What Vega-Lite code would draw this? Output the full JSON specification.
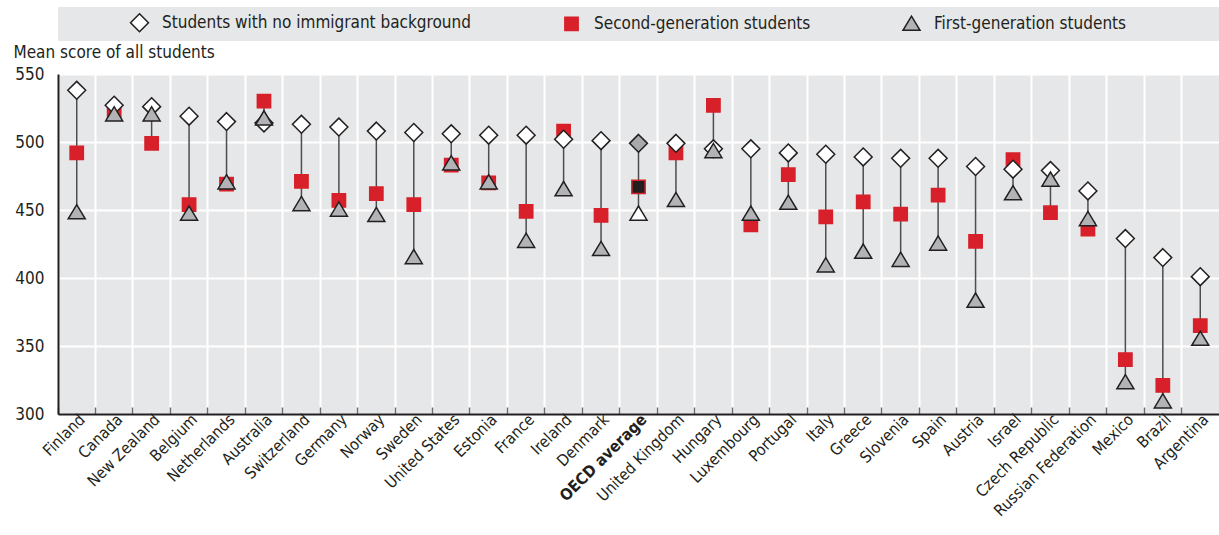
{
  "$schema": "https://vega.github.io/schema/vega-lite/v6.json",
  "width": 1161,
  "height": 340,
  "padding": {"left": 13, "top": 7, "right": 0, "bottom": 0},
  "autosize": {"type": "pad"},
  "background": "white",
  "config": {
    "view": {"fill": "#e6e7e8", "stroke": null},
    "font": "DejaVu Sans Condensed, sans-serif"
  },
  "data": {
    "values": [
      {"country": "Finland", "native": 538, "second": 492, "first": 448},
      {"country": "Canada", "native": 527, "second": 521, "first": 520},
      {"country": "New Zealand", "native": 526, "second": 499, "first": 520},
      {"country": "Belgium", "native": 519, "second": 454, "first": 447},
      {"country": "Netherlands", "native": 515, "second": 469, "first": 470},
      {"country": "Australia", "native": 514, "second": 530, "first": 517},
      {"country": "Switzerland", "native": 513, "second": 471, "first": 454},
      {"country": "Germany", "native": 511, "second": 457, "first": 450},
      {"country": "Norway", "native": 508, "second": 462, "first": 446},
      {"country": "Sweden", "native": 507, "second": 454, "first": 415},
      {"country": "United States", "native": 506, "second": 483, "first": 484},
      {"country": "Estonia", "native": 505, "second": 470, "first": 470},
      {"country": "France", "native": 505, "second": 449, "first": 427},
      {"country": "Ireland", "native": 502, "second": 508, "first": 465},
      {"country": "Denmark", "native": 501, "second": 446, "first": 421},
      {"country": "OECD average", "native": 499, "second": 467, "first": 447},
      {"country": "United Kingdom", "native": 499, "second": 492, "first": 457},
      {"country": "Hungary", "native": 495, "second": 527, "first": 493},
      {"country": "Luxembourg", "native": 495, "second": 439, "first": 447},
      {"country": "Portugal", "native": 492, "second": 476, "first": 455},
      {"country": "Italy", "native": 491, "second": 445, "first": 409},
      {"country": "Greece", "native": 489, "second": 456, "first": 419},
      {"country": "Slovenia", "native": 488, "second": 447, "first": 413},
      {"country": "Spain", "native": 488, "second": 461, "first": 425},
      {"country": "Austria", "native": 482, "second": 427, "first": 383},
      {"country": "Israel", "native": 480, "second": 487, "first": 462},
      {"country": "Czech Republic", "native": 479, "second": 448, "first": 472},
      {"country": "Russian Federation", "native": 464, "second": 436, "first": 443},
      {"country": "Mexico", "native": 429, "second": 340, "first": 323},
      {"country": "Brazil", "native": 415, "second": 321, "first": 309},
      {"country": "Argentina", "native": 401, "second": 365, "first": 355}
    ]
  },
  "transform": [
    {"fold": ["second", "native", "first"], "as": ["key", "value"]},
    {"lookup": "key", "from": {"data": {"values": [
      {"key": "native", "group": "Students with no immigrant background"},
      {"key": "second", "group": "Second-generation students"},
      {"key": "first", "group": "First-generation students"}
    ]}, "key": "key", "fields": ["group"]}}
  ],
  "encoding": {
    "x": {
      "field": "country",
      "type": "nominal",
      "sort": null,
      "scale": {"paddingInner": 0, "paddingOuter": 0},
      "axis": {
        "title": null,
        "bandPosition": 0,
        "grid": true,
        "gridColor": "white",
        "gridWidth": 2,
        "domainColor": "#231f20",
        "domainWidth": 2,
        "ticks": true,
        "tickColor": "#6d6e71",
        "tickWidth": 1.5,
        "tickSize": -7,
        "labelAngle": -45,
        "labelAlign": "right",
        "labelBaseline": "top",
        "labelPadding": 4,
        "labelFontSize": 16,
        "labelColor": "#231f20",
        "labelFontWeight": {"condition": {"test": "datum.value == 'OECD average'", "value": "bold"}, "value": "normal"}
      }
    }
  },
  "layer": [
    {
      "mark": {"type": "rule", "color": "#4d4d4f", "strokeWidth": 1.5},
      "encoding": {
        "y": {"aggregate": "min", "field": "value", "type": "quantitative"},
        "y2": {"aggregate": "max", "field": "value"}
      }
    },
    {
      "mark": {"type": "point", "filled": true, "opacity": 1, "strokeWidth": 1.5},
      "encoding": {
        "y": {
          "field": "value",
          "type": "quantitative",
          "scale": {"domain": [300, 550], "nice": false, "zero": false},
          "axis": {
            "values": [300, 350, 400, 450, 500, 550],
            "title": "Mean score of all students",
            "titleAngle": 0,
            "titleAlign": "left",
            "titleBaseline": "alphabetic",
            "titleX": -45,
            "titleY": -17,
            "titleFontSize": 17,
            "titleFontWeight": "normal",
            "titleColor": "#231f20",
            "grid": true,
            "gridColor": "white",
            "gridWidth": 2,
            "domainColor": "#231f20",
            "domainWidth": 2,
            "ticks": false,
            "labelPadding": 14,
            "labelFontSize": 17,
            "labelColor": "#231f20"
          }
        },
        "shape": {
          "field": "group",
          "type": "nominal",
          "scale": {
            "domain": ["Students with no immigrant background", "Second-generation students", "First-generation students"],
            "range": ["M0,-1.05L1.05,0L0,1.05L-1.05,0Z", "M-0.78,-0.78H0.78V0.78H-0.78Z", "M-1,0.72L1,0.72L0,-0.95Z"]
          },
          "legend": {
            "title": " ",
            "titleOrient": "right",
            "titlePadding": 88,
            "orient": "none",
            "legendX": 0,
            "legendY": -67,
            "direction": "horizontal",
            "columns": 3,
            "columnPadding": 25,
            "padding": 6,
            "fillColor": "#e6e7e8",
            "symbolOffset": 66,
            "symbolSize": 290,
            "symbolStrokeWidth": 1.5,
            "labelOffset": 13,
            "labelFontSize": 17,
            "labelColor": "#231f20",
            "labelLimit": 400
          }
        },
        "stroke": {
          "field": "group",
          "type": "nominal",
          "scale": {
            "domain": ["Students with no immigrant background", "Second-generation students", "First-generation students"],
            "range": ["#231f20", "#d7202a", "#231f20"]
          }
        },
        "size": {"value": 290},
        "fill": {
          "condition": [
            {"test": "datum.country == 'OECD average' && datum.key == 'native'", "value": "#a7a9ac"},
            {"test": "datum.country == 'OECD average' && datum.key == 'second'", "value": "#231f20"},
            {"test": "datum.country == 'OECD average' && datum.key == 'first'", "value": "white"}
          ],
          "field": "group",
          "type": "nominal",
          "scale": {
            "domain": ["Students with no immigrant background", "Second-generation students", "First-generation students"],
            "range": ["white", "#d7202a", "#b1b3b6"]
          }
        }
      }
    }
  ]
}
